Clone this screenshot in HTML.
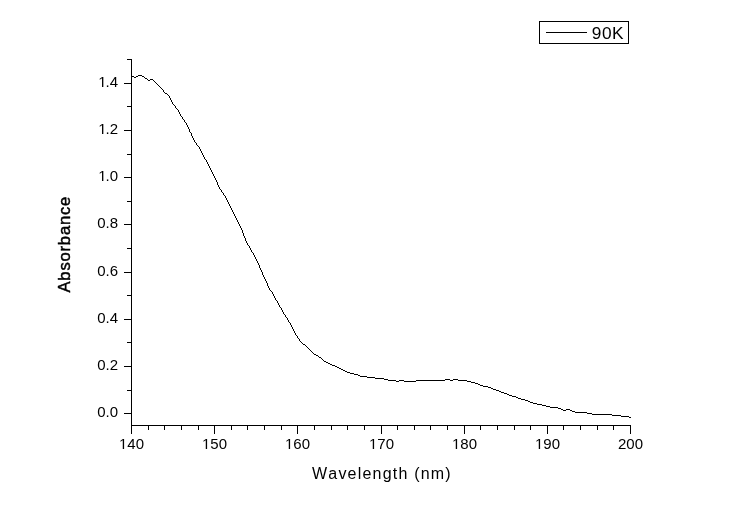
<!DOCTYPE html>
<html><head><meta charset="utf-8"><title>90K absorbance</title>
<style>
html,body{margin:0;padding:0;background:#fff;}
body{width:732px;height:510px;overflow:hidden;}
svg{display:block;}
text{font-family:"Liberation Sans",sans-serif;fill:#000;font-kerning:none;}
.tk text{font-size:15px;}
.ttl{font-size:16px;letter-spacing:1.2px;}
.yt{font-size:16.6px;letter-spacing:0.8px;stroke:#000;stroke-width:0.45px;}
.lg{font-size:17.3px;letter-spacing:0.5px;}
</style></head><body>
<svg width="732" height="510" viewBox="0 0 732 510">
<rect width="732" height="510" fill="#fff"/>
<g stroke="#000" stroke-width="1" fill="none" shape-rendering="crispEdges">
<path d="M131.5,59 V426 M131,425.5 H631" />
<path d="M131.5,426 v8 M148.5,426 v4 M164.5,426 v4 M181.5,426 v4 M198.5,426 v4 M214.5,426 v8 M231.5,426 v4 M247.5,426 v4 M264.5,426 v4 M281.5,426 v4 M297.5,426 v8 M314.5,426 v4 M331.5,426 v4 M347.5,426 v4 M364.5,426 v4 M381.5,426 v8 M397.5,426 v4 M414.5,426 v4 M430.5,426 v4 M447.5,426 v4 M464.5,426 v8 M480.5,426 v4 M497.5,426 v4 M514.5,426 v4 M530.5,426 v4 M547.5,426 v8 M563.5,426 v4 M580.5,426 v4 M597.5,426 v4 M613.5,426 v4 M630.5,426 v8 "/>
<path d="M131,413.5 h-7 M131,390.5 h-4 M131,366.5 h-7 M131,342.5 h-4 M131,319.5 h-7 M131,295.5 h-4 M131,272.5 h-7 M131,248.5 h-4 M131,224.5 h-7 M131,201.5 h-4 M131,177.5 h-7 M131,154.5 h-4 M131,130.5 h-7 M131,106.5 h-4 M131,83.5 h-7 M131,59.5 h-4 "/>
<path d="M162.5,89V90 M163.5,90V92 M164.5,92V93 M165.5,93V94 M166.5,93V94 M167.5,94V95 M168.5,95V96 M169.5,96V98 M170.5,98V100 M171.5,100V102 M172.5,102V104 M173.5,104V105 M174.5,105V106 M175.5,106V108 M176.5,108V109 M177.5,109V110 M178.5,110V112 M179.5,112V114 M180.5,114V116 M181.5,116V117 M182.5,117V119 M183.5,119V120 M184.5,120V122 M185.5,122V123 M186.5,123V125 M187.5,125V127 M188.5,127V129 M189.5,129V132 M190.5,132V133 M191.5,133V136 M192.5,136V138 M193.5,138V140 M194.5,140V142 M195.5,142V143 M196.5,143V145 M197.5,145V146 M198.5,146V147 M199.5,147V149 M200.5,149V151 M201.5,151V153 M202.5,153V155 M203.5,155V157 M204.5,157V159 M205.5,159V160 M206.5,160V162 M207.5,162V164 M208.5,164V166 M209.5,166V168 M210.5,168V170 M211.5,170V172 M212.5,172V174 M213.5,174V176 M214.5,176V178 M215.5,178V180 M216.5,180V182 M217.5,182V185 M218.5,185V187 M219.5,187V189 M220.5,189V190 M221.5,190V192 M222.5,192V193 M223.5,193V195 M224.5,195V196 M225.5,196V198 M226.5,198V200 M227.5,200V202 M228.5,202V204 M229.5,204V206 M230.5,206V208 M231.5,208V210 M232.5,210V212 M233.5,212V214 M234.5,214V216 M235.5,216V218 M236.5,218V220 M237.5,220V222 M238.5,222V224 M239.5,224V226 M240.5,226V228 M241.5,228V230 M242.5,230V233 M243.5,233V236 M244.5,236V238 M245.5,238V241 M246.5,241V243 M247.5,243V245 M248.5,245V246 M249.5,246V248 M250.5,248V250 M251.5,250V252 M252.5,252V253 M253.5,253V255 M254.5,255V257 M255.5,257V259 M256.5,259V261 M257.5,261V263 M258.5,263V265 M259.5,265V268 M260.5,268V270 M261.5,270V272 M262.5,272V275 M263.5,275V277 M264.5,277V279 M265.5,279V281 M266.5,281V283 M267.5,283V286 M268.5,286V288 M269.5,288V290 M270.5,290V291 M271.5,291V292 M272.5,292V294 M273.5,294V296 M274.5,296V298 M275.5,298V300 M276.5,300V301 M277.5,301V303 M278.5,303V305 M279.5,305V307 M280.5,307V308 M281.5,308V310 M282.5,310V312 M283.5,312V314 M284.5,314V315 M285.5,315V317 M286.5,317V318 M287.5,318V320 M288.5,320V322 M289.5,322V323 M290.5,323V325 M291.5,325V327 M292.5,327V329 M293.5,329V331 M294.5,331V333 M295.5,333V335 M296.5,335V336 M297.5,336V338 M298.5,338V339 M299.5,339V341 M300.5,341V342 M301.5,342V343 M302.5,343V344 M303.5,344V345 M304.5,344V345 M305.5,345V346 M306.5,346V347 M307.5,347V348 M308.5,348V349 M309.5,349V350 M310.5,350V351 M311.5,351V352 M312.5,352V353 M313.5,353V354 M314.5,354V355 M315.5,354V355 M316.5,355V356 M317.5,355V356 M318.5,356V357 M319.5,357V358 M320.5,357V358 M321.5,358V359 M322.5,359V360 M323.5,360V361 M324.5,361V362 M325.5,361V362 M326.5,362V363 M327.5,362V363 M328.5,363V364 M329.5,363V364 M330.5,364V365 M331.5,364V365 M332.5,365V366 M333.5,365V366 M334.5,365V366 M335.5,366V367 M336.5,366V367 M337.5,367V368 M338.5,367V368 M339.5,368V369 M340.5,368V369 M132,76.5H134 M134,77.5H136 M136,76.5H138 M138,75.5H142 M142,76.5H144 M144,77.5H145 M145,78.5H147 M147,79.5H148 M148,80.5H150 M150,79.5H153 M153,80.5H154 M154,81.5H155 M155,82.5H156 M156,83.5H157 M157,84.5H158 M158,85.5H159 M159,86.5H160 M160,87.5H161 M161,88.5H162 M340,368.5H341 M341,369.5H343 M343,370.5H345 M345,371.5H347 M347,372.5H350 M350,373.5H354 M354,374.5H358 M358,375.5H360 M360,376.5H367 M367,377.5H375 M375,378.5H384 M384,379.5H388 M388,380.5H396 M396,381.5H399 M399,380.5H404 M404,381.5H416 M416,380.5H445 M445,379.5H450 M450,380.5H453 M453,379.5H458 M458,380.5H467 M467,381.5H471 M471,382.5H475 M475,383.5H478 M478,384.5H480 M480,385.5H483 M483,386.5H488 M488,387.5H491 M491,388.5H493 M493,389.5H496 M496,390.5H499 M499,391.5H501 M501,392.5H504 M504,393.5H507 M507,394.5H509 M509,395.5H512 M512,396.5H516 M516,397.5H518 M518,398.5H521 M521,399.5H525 M525,400.5H528 M528,401.5H530 M530,402.5H533 M533,403.5H537 M537,404.5H540 M540,404.5H542 M542,405.5H546 M546,406.5H550 M550,407.5H558 M558,408.5H561 M561,409.5H563 M563,410.5H566 M566,409.5H570 M570,410.5H572 M572,411.5H575 M575,412.5H587 M587,413.5H592 M592,414.5H612 M612,415.5H621 M621,416.5H629 M629,417.5H631" stroke-linejoin="round"/>
<rect x="539.5" y="21.5" width="89" height="22"/>
<path d="M546,32.5 H587"/>
</g>
<g class="tk">
<text x="131.5" y="449" text-anchor="middle">140</text>
<text x="214.5" y="449" text-anchor="middle">150</text>
<text x="297.5" y="449" text-anchor="middle">160</text>
<text x="381.5" y="449" text-anchor="middle">170</text>
<text x="464.5" y="449" text-anchor="middle">180</text>
<text x="547.5" y="449" text-anchor="middle">190</text>
<text x="630.5" y="449" text-anchor="middle">200</text>
<text x="118" y="417.0" text-anchor="end">0.0</text>
<text x="118" y="370.0" text-anchor="end">0.2</text>
<text x="118" y="323.0" text-anchor="end">0.4</text>
<text x="118" y="276.0" text-anchor="end">0.6</text>
<text x="118" y="228.0" text-anchor="end">0.8</text>
<text x="117" y="181.0" text-anchor="end" dx="1 -1 0">1.0</text>
<text x="117" y="134.0" text-anchor="end" dx="1 -1 0">1.2</text>
<text x="117" y="87.0" text-anchor="end" dx="1 -1 0">1.4</text>
</g>
<g shape-rendering="crispEdges">
<rect x="98" y="86" width="4" height="1" fill="#fff"/><rect x="103" y="86" width="1" height="1" fill="#a8a8a8"/><rect x="104" y="86" width="2" height="1" fill="#fff"/>
<rect x="98" y="133" width="4" height="1" fill="#fff"/><rect x="103" y="133" width="1" height="1" fill="#a8a8a8"/><rect x="104" y="133" width="2" height="1" fill="#fff"/>
<rect x="98" y="180" width="4" height="1" fill="#fff"/><rect x="103" y="180" width="1" height="1" fill="#a8a8a8"/><rect x="104" y="180" width="2" height="1" fill="#fff"/>
<rect x="119" y="448" width="3" height="1" fill="#fff"/><rect x="122" y="448" width="1" height="1" fill="#c3c3c3"/><rect x="124" y="448" width="1" height="1" fill="#e7e7e7"/><rect x="125" y="448" width="3" height="1" fill="#fff"/>
<rect x="202" y="448" width="3" height="1" fill="#fff"/><rect x="205" y="448" width="1" height="1" fill="#c3c3c3"/><rect x="207" y="448" width="1" height="1" fill="#e7e7e7"/><rect x="208" y="448" width="3" height="1" fill="#fff"/>
<rect x="285" y="448" width="3" height="1" fill="#fff"/><rect x="288" y="448" width="1" height="1" fill="#c3c3c3"/><rect x="290" y="448" width="1" height="1" fill="#e7e7e7"/><rect x="291" y="448" width="3" height="1" fill="#fff"/>
<rect x="369" y="448" width="3" height="1" fill="#fff"/><rect x="372" y="448" width="1" height="1" fill="#c3c3c3"/><rect x="374" y="448" width="1" height="1" fill="#e7e7e7"/><rect x="375" y="448" width="3" height="1" fill="#fff"/>
<rect x="452" y="448" width="3" height="1" fill="#fff"/><rect x="455" y="448" width="1" height="1" fill="#c3c3c3"/><rect x="457" y="448" width="1" height="1" fill="#e7e7e7"/><rect x="458" y="448" width="3" height="1" fill="#fff"/>
<rect x="535" y="448" width="3" height="1" fill="#fff"/><rect x="538" y="448" width="1" height="1" fill="#c3c3c3"/><rect x="540" y="448" width="1" height="1" fill="#e7e7e7"/><rect x="541" y="448" width="3" height="1" fill="#fff"/>
</g>
<text class="ttl" x="312" y="478.5">Wavelength (nm)</text>
<text class="yt" transform="translate(70,292.5) rotate(-90)">Absorbance</text>
<text class="lg" x="591.8" y="39">90K</text>
</svg>
</body></html>
